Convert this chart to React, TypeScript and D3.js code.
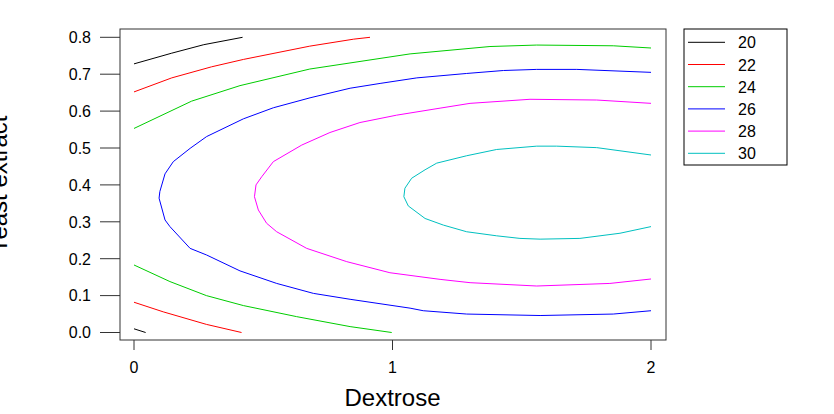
import * as d3 from 'd3'

// contour levels and colours (R-style palette)
const LEVELS = [20, 22, 24, 26, 28, 30]
const LEVEL_COLORS = ['#000000', '#FF0000', '#00CD00', '#0000FF', '#FF00FF', '#00C0C0']

const X_TICKS = [0, 1, 2]
const Y_TICKS = [0, 0.1, 0.2, 0.3, 0.4, 0.5, 0.6, 0.7, 0.8]

// contour polylines: [dextrose, yeast extract]
const c20Top: [number, number][] = [[0, 0.728], [0.146, 0.757], [0.27, 0.78], [0.42, 0.8]]
const c20Bottom: [number, number][] = [[0, 0.01], [0.045, 0]]
const c22Top: [number, number][] = [
  [0, 0.652], [0.146, 0.69], [0.3, 0.72], [0.423, 0.74], [0.68, 0.776], [0.85, 0.795], [0.913, 0.8],
]
const c22Bottom: [number, number][] = [[0, 0.082], [0.113, 0.056], [0.28, 0.022], [0.416, 0]]
const c24Top: [number, number][] = [
  [0, 0.553], [0.223, 0.627], [0.41, 0.669], [0.68, 0.714], [1.068, 0.755],
  [1.377, 0.775], [1.558, 0.779], [1.854, 0.777], [2, 0.771],
]
const c24Bottom: [number, number][] = [
  [0, 0.183], [0.139, 0.138], [0.28, 0.1], [0.423, 0.073], [0.629, 0.043], [0.836, 0.016], [0.997, 0],
]
const c26: [number, number][] = [
  [2, 0.705], [1.713, 0.713], [1.558, 0.713], [1.429, 0.71], [1.287, 0.702], [1.094, 0.69],
  [0.952, 0.675], [0.836, 0.662], [0.681, 0.636], [0.539, 0.609], [0.423, 0.579], [0.281, 0.531],
  [0.217, 0.499], [0.152, 0.463], [0.12, 0.43], [0.1, 0.382], [0.097, 0.364], [0.12, 0.305],
  [0.139, 0.287], [0.217, 0.228], [0.281, 0.21], [0.41, 0.167], [0.552, 0.133], [0.694, 0.106],
  [0.836, 0.09], [1.068, 0.066], [1.119, 0.059], [1.287, 0.05], [1.571, 0.046], [1.854, 0.05],
  [2, 0.059],
]
const c28: [number, number][] = [
  [2, 0.621], [1.79, 0.63], [1.532, 0.632], [1.3, 0.621], [1.184, 0.608], [1.016, 0.589],
  [0.874, 0.569], [0.758, 0.542], [0.649, 0.508], [0.539, 0.463], [0.494, 0.422], [0.472, 0.4],
  [0.466, 0.368], [0.481, 0.332], [0.513, 0.296], [0.552, 0.273], [0.668, 0.228], [0.823, 0.192],
  [0.99, 0.162], [1.184, 0.144], [1.3, 0.135], [1.558, 0.126], [1.841, 0.133], [2, 0.145],
]
const c30: [number, number][] = [
  [2, 0.481], [1.79, 0.501], [1.635, 0.505], [1.558, 0.505], [1.403, 0.496], [1.287, 0.479],
  [1.171, 0.459], [1.126, 0.441], [1.074, 0.418], [1.048, 0.391], [1.044, 0.368], [1.061, 0.343],
  [1.126, 0.309], [1.197, 0.291], [1.287, 0.273], [1.403, 0.262], [1.493, 0.255], [1.571, 0.253],
  [1.725, 0.255], [1.88, 0.269], [2, 0.287],
]

const CONTOURS = [
  { level: 20, pts: c20Top }, { level: 20, pts: c20Bottom },
  { level: 22, pts: c22Top }, { level: 22, pts: c22Bottom },
  { level: 24, pts: c24Top }, { level: 24, pts: c24Bottom },
  { level: 26, pts: c26 }, { level: 28, pts: c28 }, { level: 30, pts: c30 },
]

const FONT = '"Liberation Sans", Arial, Helvetica, sans-serif'

export default function App() {
  const width = 834
  const height = 414
  const box = { left: 120, right: 666, top: 29, bottom: 340 }

  const x = d3.scaleLinear().domain([0, 2]).range([134, 651])
  const y = d3.scaleLinear().domain([0, 0.8]).range([332.5, 37.3])
  const color = d3.scaleOrdinal<number, string>().domain(LEVELS).range(LEVEL_COLORS)

  const line = d3.line<[number, number]>().x(d => x(d[0])).y(d => y(d[1]))

  const legend = { left: 684, top: 29, w: 103, h: 136, rowH: 22.2 }

  return (
    <svg width={width} height={height} style={{ position: 'absolute', left: 0, top: 0, fontFamily: FONT }}>
      <rect x={0} y={0} width={width} height={height} fill="#fff" />

      {/* contour lines */}
      {CONTOURS.map((c, i) => (
        <path key={i} d={line(c.pts) ?? ''} fill="none" stroke={color(c.level)} strokeWidth={1}
          strokeLinejoin="round" />
      ))}

      {/* plot box */}
      <rect x={box.left} y={box.top} width={box.right - box.left} height={box.bottom - box.top}
        fill="none" stroke="#333" strokeWidth={1} />

      {/* x axis */}
      {X_TICKS.map(t => (
        <g key={t}>
          <line x1={x(t)} x2={x(t)} y1={box.bottom} y2={box.bottom + 10} stroke="#333" />
          <text x={x(t)} y={373} fontSize={16} textAnchor="middle" fill="#000">{t}</text>
        </g>
      ))}
      <text x={(x(0) + x(2)) / 2} y={406} fontSize={24} textAnchor="middle" fill="#000">Dextrose</text>

      {/* y axis */}
      {Y_TICKS.map(t => (
        <g key={t}>
          <line x1={box.left - 20} x2={box.left} y1={y(t)} y2={y(t)} stroke="#333" />
          <text x={91} y={y(t) + 5.8} fontSize={16} textAnchor="end" fill="#000">{t.toFixed(1)}</text>
        </g>
      ))}
      <text transform={`translate(7,${(box.top + box.bottom) / 2}) rotate(-90)`} fontSize={24}
        textAnchor="middle" fill="#000">Yeast extract</text>

      {/* legend */}
      <rect x={legend.left} y={legend.top} width={legend.w} height={legend.h} fill="#fff" stroke="#000" />
      {LEVELS.map((lv, i) => {
        const ly = legend.top + 13.3 + i * legend.rowH
        return (
          <g key={lv}>
            <line x1={688} x2={725} y1={ly} y2={ly} stroke={color(lv)} />
            <text x={738} y={ly + 6} fontSize={16} fill="#000">{lv}</text>
          </g>
        )
      })}
    </svg>
  )
}
